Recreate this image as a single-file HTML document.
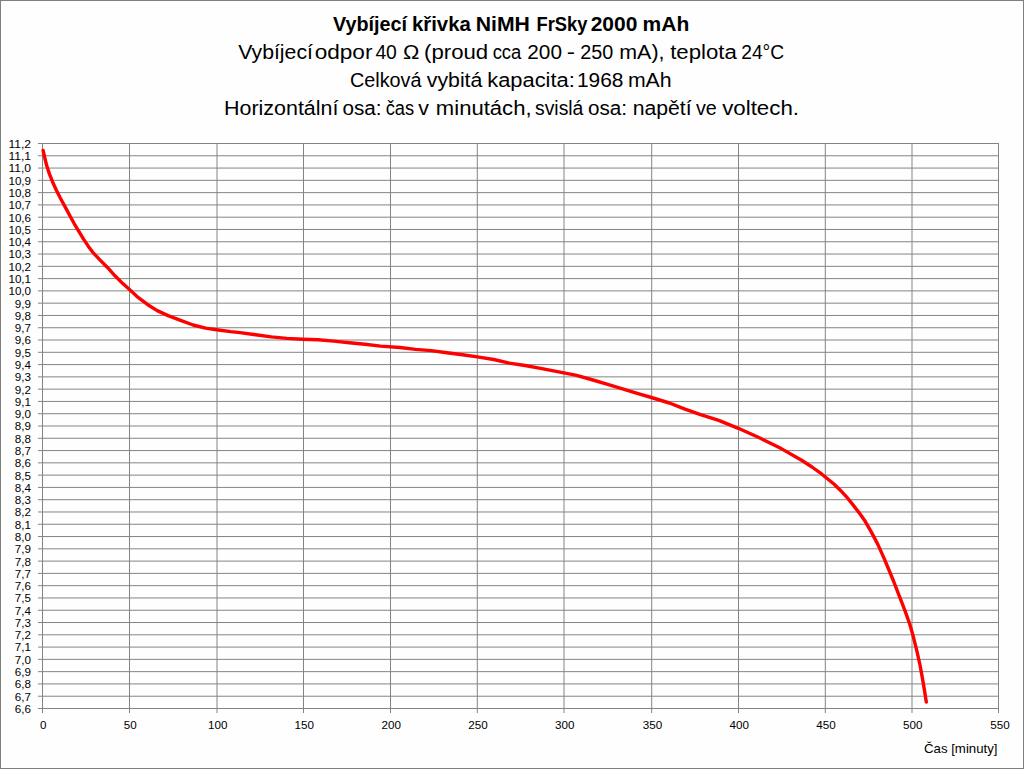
<!DOCTYPE html>
<html><head><meta charset="utf-8"><style>
html,body{margin:0;padding:0;background:#fff;}
svg{display:block;}
text{font-family:"Liberation Sans",sans-serif;}
</style></head><body>
<svg width="1024" height="769" viewBox="0 0 1024 769">
<rect x="0" y="0" width="1024" height="769" fill="#fefefe"/>
<rect x="0.5" y="0.5" width="1023" height="768" fill="none" stroke="#7d807d" stroke-width="1"/>
<g font-size="19.5" fill="#000">
<text x="333.0" y="31" font-weight="bold" textLength="73.98" lengthAdjust="spacingAndGlyphs">Vybíjecí</text>
<text x="411.95" y="31" font-weight="bold" textLength="58.86" lengthAdjust="spacingAndGlyphs">křivka</text>
<text x="475.71" y="31" font-weight="bold" textLength="54.19" lengthAdjust="spacingAndGlyphs">NiMH</text>
<text x="536.44" y="31" font-weight="bold" textLength="50.96" lengthAdjust="spacingAndGlyphs">FrSky</text>
<text x="590.71" y="31" font-weight="bold" textLength="46.7" lengthAdjust="spacingAndGlyphs">2000</text>
<text x="642.52" y="31" font-weight="bold" textLength="46.73" lengthAdjust="spacingAndGlyphs">mAh</text>
<text x="238.2" y="59" textLength="74.7" lengthAdjust="spacingAndGlyphs">Vybíjecí</text>
<text x="314.65" y="59" textLength="57.81" lengthAdjust="spacingAndGlyphs">odpor</text>
<text x="375.39" y="59" textLength="21.51" lengthAdjust="spacingAndGlyphs">40</text>
<text x="403.06" y="59" textLength="16.38" lengthAdjust="spacingAndGlyphs">Ω</text>
<text x="424.05" y="59" textLength="64.12" lengthAdjust="spacingAndGlyphs">(proud</text>
<text x="492.65" y="59" textLength="28.71" lengthAdjust="spacingAndGlyphs">cca</text>
<text x="527.32" y="59" textLength="34.65" lengthAdjust="spacingAndGlyphs">200</text>
<text x="566.72" y="59" textLength="8.33" lengthAdjust="spacingAndGlyphs">-</text>
<text x="580.38" y="59" textLength="32.98" lengthAdjust="spacingAndGlyphs">250</text>
<text x="619.29" y="59" textLength="45.21" lengthAdjust="spacingAndGlyphs">mA),</text>
<text x="670.19" y="59" textLength="66.73" lengthAdjust="spacingAndGlyphs">teplota</text>
<text x="741.2" y="59" textLength="42.96" lengthAdjust="spacingAndGlyphs">24°C</text>
<text x="349.99" y="87" textLength="71.48" lengthAdjust="spacingAndGlyphs">Celková</text>
<text x="426.8" y="87" textLength="55.56" lengthAdjust="spacingAndGlyphs">vybitá</text>
<text x="487.27" y="87" textLength="87.55" lengthAdjust="spacingAndGlyphs">kapacita:</text>
<text x="576.91" y="87" textLength="46.52" lengthAdjust="spacingAndGlyphs">1968</text>
<text x="627.9" y="87" textLength="43.72" lengthAdjust="spacingAndGlyphs">mAh</text>
<text x="224.01" y="115" textLength="114.47" lengthAdjust="spacingAndGlyphs">Horizontální</text>
<text x="342.54" y="115" textLength="39.03" lengthAdjust="spacingAndGlyphs">osa:</text>
<text x="385.66" y="115" textLength="28.5" lengthAdjust="spacingAndGlyphs">čas</text>
<text x="418.35" y="115" textLength="10.66" lengthAdjust="spacingAndGlyphs">v</text>
<text x="435.87" y="115" textLength="95.69" lengthAdjust="spacingAndGlyphs">minutách,</text>
<text x="535.0" y="115" textLength="48.36" lengthAdjust="spacingAndGlyphs">svislá</text>
<text x="587.94" y="115" textLength="39.05" lengthAdjust="spacingAndGlyphs">osa:</text>
<text x="632.7" y="115" textLength="58.94" lengthAdjust="spacingAndGlyphs">napětí</text>
<text x="696.0" y="115" textLength="20.83" lengthAdjust="spacingAndGlyphs">ve</text>
<text x="722.2" y="115" textLength="76.79" lengthAdjust="spacingAndGlyphs">voltech.</text>
</g>
<g stroke="#838583" stroke-width="1" >
<line x1="38" y1="143.50" x2="999" y2="143.50"/>
<line x1="38" y1="155.78" x2="999" y2="155.78"/>
<line x1="38" y1="168.07" x2="999" y2="168.07"/>
<line x1="38" y1="180.35" x2="999" y2="180.35"/>
<line x1="38" y1="192.63" x2="999" y2="192.63"/>
<line x1="38" y1="204.91" x2="999" y2="204.91"/>
<line x1="38" y1="217.20" x2="999" y2="217.20"/>
<line x1="38" y1="229.48" x2="999" y2="229.48"/>
<line x1="38" y1="241.76" x2="999" y2="241.76"/>
<line x1="38" y1="254.04" x2="999" y2="254.04"/>
<line x1="38" y1="266.33" x2="999" y2="266.33"/>
<line x1="38" y1="278.61" x2="999" y2="278.61"/>
<line x1="38" y1="290.89" x2="999" y2="290.89"/>
<line x1="38" y1="303.17" x2="999" y2="303.17"/>
<line x1="38" y1="315.46" x2="999" y2="315.46"/>
<line x1="38" y1="327.74" x2="999" y2="327.74"/>
<line x1="38" y1="340.02" x2="999" y2="340.02"/>
<line x1="38" y1="352.30" x2="999" y2="352.30"/>
<line x1="38" y1="364.59" x2="999" y2="364.59"/>
<line x1="38" y1="376.87" x2="999" y2="376.87"/>
<line x1="38" y1="389.15" x2="999" y2="389.15"/>
<line x1="38" y1="401.43" x2="999" y2="401.43"/>
<line x1="38" y1="413.72" x2="999" y2="413.72"/>
<line x1="38" y1="426.00" x2="999" y2="426.00"/>
<line x1="38" y1="438.28" x2="999" y2="438.28"/>
<line x1="38" y1="450.57" x2="999" y2="450.57"/>
<line x1="38" y1="462.85" x2="999" y2="462.85"/>
<line x1="38" y1="475.13" x2="999" y2="475.13"/>
<line x1="38" y1="487.41" x2="999" y2="487.41"/>
<line x1="38" y1="499.70" x2="999" y2="499.70"/>
<line x1="38" y1="511.98" x2="999" y2="511.98"/>
<line x1="38" y1="524.26" x2="999" y2="524.26"/>
<line x1="38" y1="536.54" x2="999" y2="536.54"/>
<line x1="38" y1="548.83" x2="999" y2="548.83"/>
<line x1="38" y1="561.11" x2="999" y2="561.11"/>
<line x1="38" y1="573.39" x2="999" y2="573.39"/>
<line x1="38" y1="585.67" x2="999" y2="585.67"/>
<line x1="38" y1="597.96" x2="999" y2="597.96"/>
<line x1="38" y1="610.24" x2="999" y2="610.24"/>
<line x1="38" y1="622.52" x2="999" y2="622.52"/>
<line x1="38" y1="634.80" x2="999" y2="634.80"/>
<line x1="38" y1="647.09" x2="999" y2="647.09"/>
<line x1="38" y1="659.37" x2="999" y2="659.37"/>
<line x1="38" y1="671.65" x2="999" y2="671.65"/>
<line x1="38" y1="683.93" x2="999" y2="683.93"/>
<line x1="38" y1="696.22" x2="999" y2="696.22"/>
<line x1="38" y1="708.50" x2="999" y2="708.50"/>
<line x1="42.5" y1="143" x2="42.5" y2="713"/>
<line x1="129.5" y1="143" x2="129.5" y2="713"/>
<line x1="217.0" y1="143" x2="217.0" y2="713"/>
<line x1="303.5" y1="143" x2="303.5" y2="713"/>
<line x1="390.5" y1="143" x2="390.5" y2="713"/>
<line x1="477.3" y1="143" x2="477.3" y2="713"/>
<line x1="564.0" y1="143" x2="564.0" y2="713"/>
<line x1="651.7" y1="143" x2="651.7" y2="713"/>
<line x1="738.5" y1="143" x2="738.5" y2="713"/>
<line x1="825.3" y1="143" x2="825.3" y2="713"/>
<line x1="912.0" y1="143" x2="912.0" y2="713"/>
<line x1="998.5" y1="143" x2="998.5" y2="713"/>
</g>
<g font-size="11" fill="#000">
<text x="8.41" y="147.90" textLength="22.69" lengthAdjust="spacingAndGlyphs">11,2</text>
<text x="8.41" y="160.18" textLength="22.69" lengthAdjust="spacingAndGlyphs">11,1</text>
<text x="8.41" y="172.47" textLength="22.69" lengthAdjust="spacingAndGlyphs">11,0</text>
<text x="8.41" y="184.75" textLength="22.69" lengthAdjust="spacingAndGlyphs">10,9</text>
<text x="8.41" y="197.03" textLength="22.69" lengthAdjust="spacingAndGlyphs">10,8</text>
<text x="8.41" y="209.31" textLength="22.69" lengthAdjust="spacingAndGlyphs">10,7</text>
<text x="8.41" y="221.60" textLength="22.69" lengthAdjust="spacingAndGlyphs">10,6</text>
<text x="8.41" y="233.88" textLength="22.69" lengthAdjust="spacingAndGlyphs">10,5</text>
<text x="8.41" y="246.16" textLength="22.69" lengthAdjust="spacingAndGlyphs">10,4</text>
<text x="8.41" y="258.44" textLength="22.69" lengthAdjust="spacingAndGlyphs">10,3</text>
<text x="8.41" y="270.73" textLength="22.69" lengthAdjust="spacingAndGlyphs">10,2</text>
<text x="8.41" y="283.01" textLength="22.69" lengthAdjust="spacingAndGlyphs">10,1</text>
<text x="8.41" y="295.29" textLength="22.69" lengthAdjust="spacingAndGlyphs">10,0</text>
<text x="14.89" y="307.57" textLength="16.21" lengthAdjust="spacingAndGlyphs">9,9</text>
<text x="14.89" y="319.86" textLength="16.21" lengthAdjust="spacingAndGlyphs">9,8</text>
<text x="14.89" y="332.14" textLength="16.21" lengthAdjust="spacingAndGlyphs">9,7</text>
<text x="14.89" y="344.42" textLength="16.21" lengthAdjust="spacingAndGlyphs">9,6</text>
<text x="14.89" y="356.70" textLength="16.21" lengthAdjust="spacingAndGlyphs">9,5</text>
<text x="14.89" y="368.99" textLength="16.21" lengthAdjust="spacingAndGlyphs">9,4</text>
<text x="14.89" y="381.27" textLength="16.21" lengthAdjust="spacingAndGlyphs">9,3</text>
<text x="14.89" y="393.55" textLength="16.21" lengthAdjust="spacingAndGlyphs">9,2</text>
<text x="14.89" y="405.83" textLength="16.21" lengthAdjust="spacingAndGlyphs">9,1</text>
<text x="14.89" y="418.12" textLength="16.21" lengthAdjust="spacingAndGlyphs">9,0</text>
<text x="14.89" y="430.40" textLength="16.21" lengthAdjust="spacingAndGlyphs">8,9</text>
<text x="14.89" y="442.68" textLength="16.21" lengthAdjust="spacingAndGlyphs">8,8</text>
<text x="14.89" y="454.97" textLength="16.21" lengthAdjust="spacingAndGlyphs">8,7</text>
<text x="14.89" y="467.25" textLength="16.21" lengthAdjust="spacingAndGlyphs">8,6</text>
<text x="14.89" y="479.53" textLength="16.21" lengthAdjust="spacingAndGlyphs">8,5</text>
<text x="14.89" y="491.81" textLength="16.21" lengthAdjust="spacingAndGlyphs">8,4</text>
<text x="14.89" y="504.10" textLength="16.21" lengthAdjust="spacingAndGlyphs">8,3</text>
<text x="14.89" y="516.38" textLength="16.21" lengthAdjust="spacingAndGlyphs">8,2</text>
<text x="14.89" y="528.66" textLength="16.21" lengthAdjust="spacingAndGlyphs">8,1</text>
<text x="14.89" y="540.94" textLength="16.21" lengthAdjust="spacingAndGlyphs">8,0</text>
<text x="14.89" y="553.23" textLength="16.21" lengthAdjust="spacingAndGlyphs">7,9</text>
<text x="14.89" y="565.51" textLength="16.21" lengthAdjust="spacingAndGlyphs">7,8</text>
<text x="14.89" y="577.79" textLength="16.21" lengthAdjust="spacingAndGlyphs">7,7</text>
<text x="14.89" y="590.07" textLength="16.21" lengthAdjust="spacingAndGlyphs">7,6</text>
<text x="14.89" y="602.36" textLength="16.21" lengthAdjust="spacingAndGlyphs">7,5</text>
<text x="14.89" y="614.64" textLength="16.21" lengthAdjust="spacingAndGlyphs">7,4</text>
<text x="14.89" y="626.92" textLength="16.21" lengthAdjust="spacingAndGlyphs">7,3</text>
<text x="14.89" y="639.20" textLength="16.21" lengthAdjust="spacingAndGlyphs">7,2</text>
<text x="14.89" y="651.49" textLength="16.21" lengthAdjust="spacingAndGlyphs">7,1</text>
<text x="14.89" y="663.77" textLength="16.21" lengthAdjust="spacingAndGlyphs">7,0</text>
<text x="14.89" y="676.05" textLength="16.21" lengthAdjust="spacingAndGlyphs">6,9</text>
<text x="14.89" y="688.33" textLength="16.21" lengthAdjust="spacingAndGlyphs">6,8</text>
<text x="14.89" y="700.62" textLength="16.21" lengthAdjust="spacingAndGlyphs">6,7</text>
<text x="14.89" y="712.90" textLength="16.21" lengthAdjust="spacingAndGlyphs">6,6</text>
<text x="39.96" y="729" textLength="6.48" lengthAdjust="spacingAndGlyphs">0</text>
<text x="123.72" y="729" textLength="12.97" lengthAdjust="spacingAndGlyphs">50</text>
<text x="207.98" y="729" textLength="19.45" lengthAdjust="spacingAndGlyphs">100</text>
<text x="294.48" y="729" textLength="19.45" lengthAdjust="spacingAndGlyphs">150</text>
<text x="381.48" y="729" textLength="19.45" lengthAdjust="spacingAndGlyphs">200</text>
<text x="468.28" y="729" textLength="19.45" lengthAdjust="spacingAndGlyphs">250</text>
<text x="554.98" y="729" textLength="19.45" lengthAdjust="spacingAndGlyphs">300</text>
<text x="642.68" y="729" textLength="19.45" lengthAdjust="spacingAndGlyphs">350</text>
<text x="729.48" y="729" textLength="19.45" lengthAdjust="spacingAndGlyphs">400</text>
<text x="816.28" y="729" textLength="19.45" lengthAdjust="spacingAndGlyphs">450</text>
<text x="902.98" y="729" textLength="19.45" lengthAdjust="spacingAndGlyphs">500</text>
<text x="990.18" y="729" textLength="19.45" lengthAdjust="spacingAndGlyphs">550</text>
</g>
<text x="924" y="753.2" font-size="13.4" fill="#000" textLength="73.5" lengthAdjust="spacingAndGlyphs">Čas [minuty]</text>
<polyline points="43.1,150.5 44.7,157.5 46.6,165.3 49.4,173.9 52.5,181.7 56.4,190.2 60.3,198 65,206.6 69.6,215.2 74.3,223.8 79,231.6 83.7,239.4 88.4,246.4 92.8,252.3 99.4,259.4 107.2,267.2 115,275.8 122.8,283.6 130.6,290.6 138.4,297.7 147.8,304.7 157.2,310.6 168.1,315.6 180.6,320.3 193.1,325 205.6,328.1 216.6,329.7 230.6,331.6 240,332.6 255.6,334.8 271.25,336.9 286.9,338.4 302.5,339.2 318.1,339.8 333.75,341.1 349.4,342.7 365,344.2 380.6,346.1 400,347.5 415.6,349.4 431.25,350.6 446.9,352.8 462.5,354.8 477.3,356.9 493.75,359.5 509.4,363.1 525,365.5 540.6,368.4 560,372.2 575.6,375.2 591.25,379.5 606.9,384.2 622.5,388.9 638.1,393.6 651.4,397.5 669.4,403 685,409.2 700.6,414.7 718.75,420.4 738.3,428.3 759.4,437.8 781.25,448.6 801.6,460.3 812,467 821.9,474.2 834.2,484.2 840.3,490.2 846.5,496.8 852.8,504.6 859,512.6 865.2,521.3 871.5,532.4 877.7,544.1 884,558.1 890.2,573 893.5,581 897,590.1 901.3,601.1 905.5,612.1 909.7,624 913.1,635.8 916.5,649.3 919.9,664.5 922.4,678.1 924.4,689.9 926.3,702.1" fill="none" stroke="#ff0000" stroke-width="3.4" stroke-linejoin="round" stroke-linecap="round"/>
</svg>
</body></html>
